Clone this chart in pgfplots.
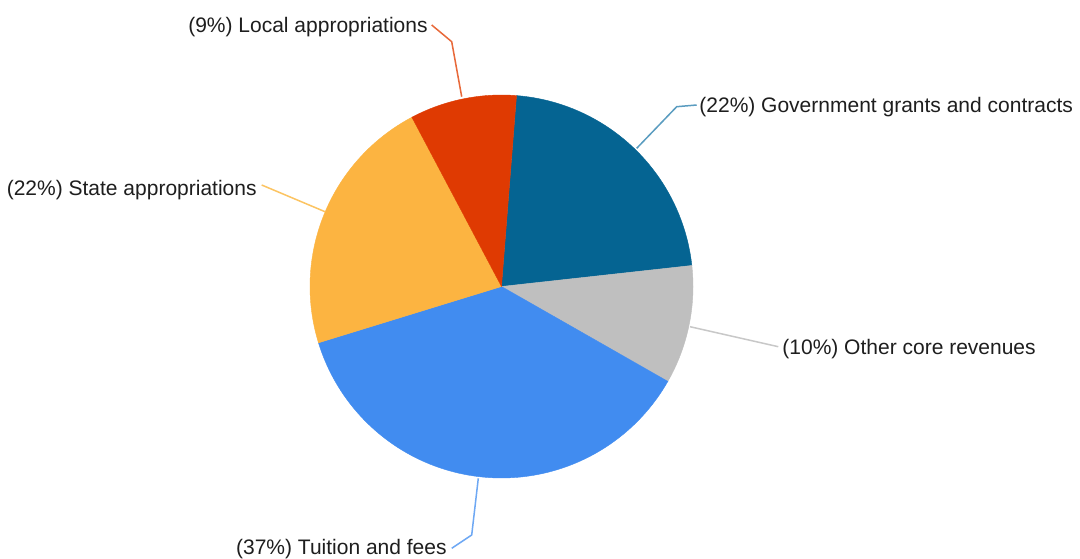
\documentclass[border=0pt]{standalone}
\usepackage{pgfplots}
\pgfplotsset{compat=1.18}
\usepackage{fontspec}
\setmainfont{Liberation Sans}
\definecolor{cGov}{HTML}{056492}
\definecolor{cOther}{HTML}{BFBFBF}
\definecolor{cTuition}{HTML}{418CF0}
\definecolor{cState}{HTML}{FCB441}
\definecolor{cLocal}{HTML}{DF3A02}
\definecolor{lGov}{HTML}{5A9CC0}
\definecolor{lOther}{HTML}{C8C8C8}
\definecolor{lTuition}{HTML}{6EA8F4}
\definecolor{lState}{HTML}{FCC462}
\definecolor{lLocal}{HTML}{E8693A}
\definecolor{txt}{HTML}{1E1E1E}
\def\cx{501.5}
\def\cy{271.5}
\def\rr{191.5}
\def\curang{4.5}
\newcommand\slice[2]{%
  \pgfmathsetmacro\endang{\curang+3.6*#1}%
  \edef\temp{\noexpand\addplot[fill=#2, draw=#2, line width=0.2pt, domain=\curang:\endang, samples=90, variable=\noexpand\t]
    ({\cx+\rr*sin(\noexpand\t)}, {\cy+\rr*cos(\noexpand\t)}) -- (axis cs:\cx,\cy) -- cycle;}%
  \temp
  \global\let\curang\endang}
\begin{document}
\begin{tikzpicture}
\useasboundingbox (0,0) rectangle (540pt,279pt);
\fill[white] (0,0) rectangle (540pt,279pt);
\begin{axis}[at={(0,0)}, anchor=south west, scale only axis,
  width=540pt, height=279pt, xmin=0, xmax=1080, ymin=0, ymax=558,
  hide axis, clip=false]
% values (percent): Government grants, Other core, Tuition, State, Local
\slice{22}{cGov}
\slice{10}{cOther}
\slice{37}{cTuition}
\slice{22}{cState}
\slice{9}{cLocal}
% leader lines
\addplot[lLocal, line width=0.75pt] coordinates {(461.7,461.3) (451.7,516.3) (431.7,533)};
\addplot[lGov, line width=0.75pt] coordinates {(636.7,409.7) (676.7,451.3) (696.7,453)};
\addplot[lState, line width=0.75pt] coordinates {(325,346.3) (261.7,373)};
\addplot[lOther, line width=0.75pt] coordinates {(690,231.3) (778.3,211.3)};
\addplot[lTuition, line width=0.75pt] coordinates {(478.3,79.7) (471.7,23) (451.7,9.7)};
% labels
\begin{scope}[every node/.style={inner sep=0pt, text=txt, font=\fontsize{10.5}{12}\selectfont}]
\node[anchor=base east] at (axis cs:428,525.5) {(9\%) Local appropriations};
\node[anchor=base west] at (axis cs:699,445.5) {(22\%) Government grants and contracts};
\node[anchor=base east] at (axis cs:257,362.5) {(22\%) State appropriations};
\node[anchor=base west] at (axis cs:782,204) {(10\%) Other core revenues};
\node[anchor=base east] at (axis cs:447,4) {(37\%) Tuition and fees};
\end{scope}
\end{axis}
\end{tikzpicture}
\end{document}
